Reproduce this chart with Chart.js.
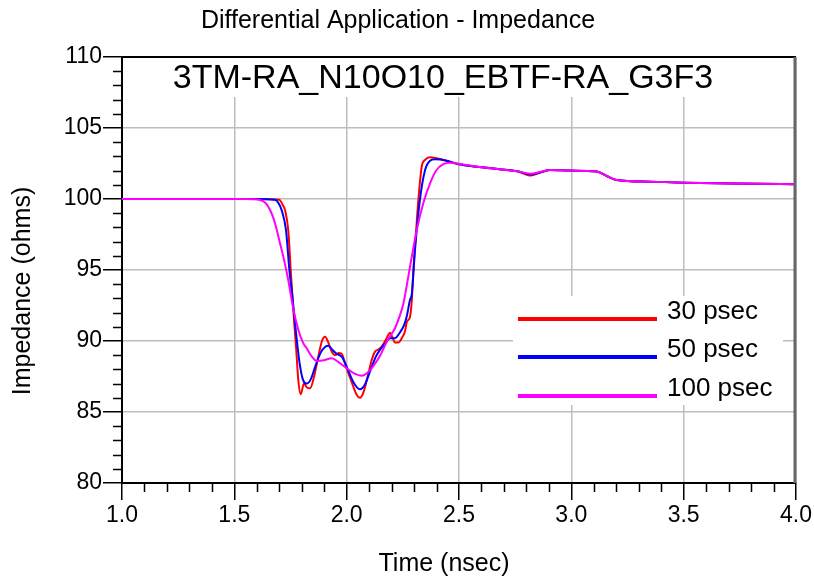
<!DOCTYPE html>
<html>
<head>
<meta charset="utf-8">
<script src="https://cdn.jsdelivr.net/npm/chart.js@4"></script>
<style>
  html, body { margin: 0; padding: 0; background: #fff; }
</style>
</head>
<body>
<canvas id="impChart" width="814" height="578"></canvas>
<script>
// time (nsec) / impedance (ohms)
const t30 = [1.0, 1.6, 1.70, 1.715, 1.726, 1.74, 1.751, 1.762, 1.775, 1.785, 1.795, 1.81, 1.822, 1.837, 1.855, 1.875, 1.89, 1.904, 1.918, 1.935, 1.948, 1.965, 1.978, 1.995, 2.02, 2.045, 2.059, 2.075, 2.095, 2.112, 2.126, 2.141, 2.16, 2.178, 2.193, 2.205, 2.215, 2.23, 2.245, 2.26, 2.267, 2.275, 2.282, 2.29, 2.297, 2.308, 2.319, 2.334, 2.349, 2.371, 2.40, 2.445, 2.495, 2.59, 2.68, 2.76, 2.82, 2.86, 2.905, 2.994, 3.113, 3.157, 3.2, 3.35, 3.5, 3.72, 4.0];
const z30 = [100, 100, 99.95, 99.6, 99.2, 97.8, 95.0, 92.3, 89.5, 87.2, 86.25, 87.0, 86.75, 86.67, 87.5, 89.0, 90.0, 90.3, 89.9, 89.2, 89.0, 89.15, 89.1, 88.3, 87.2, 86.2, 86.0, 86.4, 87.6, 88.7, 89.25, 89.4, 89.7, 90.2, 90.58, 90.2, 89.9, 89.9, 90.2, 90.7, 91.3, 91.5, 91.7, 92.9, 95.0, 97.5, 99.9, 102.27, 102.75, 102.94, 102.87, 102.7, 102.46, 102.25, 102.1, 101.95, 101.65, 101.85, 102.04, 102.0, 101.93, 101.62, 101.34, 101.22, 101.15, 101.1, 101.04];

const t50 = [1.0, 1.6, 1.681, 1.697, 1.711, 1.73, 1.745, 1.76, 1.775, 1.79, 1.805, 1.822, 1.84, 1.86, 1.885, 1.905, 1.918, 1.935, 1.955, 1.978, 2.0, 2.03, 2.059, 2.08, 2.105, 2.13, 2.148, 2.17, 2.193, 2.215, 2.237, 2.255, 2.267, 2.282, 2.29, 2.304, 2.326, 2.349, 2.371, 2.393, 2.445, 2.495, 2.59, 2.68, 2.76, 2.82, 2.86, 2.905, 2.994, 3.113, 3.157, 3.2, 3.35, 3.5, 3.72, 4.0];
const z50 = [100, 100, 99.95, 99.7, 99.2, 97.8, 95.0, 92.9, 90.5, 88.5, 87.3, 87.0, 87.3, 88.2, 89.2, 89.6, 89.67, 89.4, 89.1, 88.9, 88.2, 87.1, 86.6, 86.9, 87.9, 88.9, 89.37, 89.8, 90.19, 90.2, 90.6, 91.1, 91.71, 92.9, 93.3, 96.4, 99.93, 102.04, 102.7, 102.8, 102.7, 102.46, 102.25, 102.1, 101.95, 101.72, 101.87, 102.04, 102.0, 101.93, 101.62, 101.34, 101.22, 101.15, 101.1, 101.04];

const t100 = [1.0, 1.55, 1.614, 1.64, 1.659, 1.675, 1.689, 1.703, 1.718, 1.74, 1.762, 1.785, 1.805, 1.822, 1.845, 1.867, 1.9, 1.933, 1.965, 2.0, 2.035, 2.067, 2.095, 2.119, 2.15, 2.18, 2.215, 2.237, 2.252, 2.282, 2.312, 2.341, 2.371, 2.40, 2.43, 2.46, 2.504, 2.59, 2.68, 2.76, 2.82, 2.86, 2.905, 2.994, 3.113, 3.157, 3.2, 3.35, 3.5, 3.72, 4.0];
const z100 = [100, 100, 99.93, 99.7, 99.23, 98.6, 97.82, 96.9, 95.94, 94.3, 92.3, 90.77, 89.9, 89.49, 88.9, 88.6, 88.65, 88.78, 88.5, 88.08, 87.7, 87.56, 87.8, 88.25, 89.0, 90.0, 90.9, 91.8, 92.6, 95.23, 97.82, 99.7, 101.1, 102.04, 102.46, 102.56, 102.46, 102.25, 102.1, 101.95, 101.78, 101.9, 102.04, 102.0, 101.93, 101.62, 101.34, 101.22, 101.15, 101.1, 101.04];

const seriesNames = ['30 psec', '50 psec', '100 psec'];
const seriesColors = ['#ff0000', '#0000ff', '#ff00ff'];
const yTicks = [80, 85, 90, 95, 100, 105, 110];
const xTicks = [1.0, 1.5, 2.0, 2.5, 3.0, 3.5, 4.0];

const FONT = "'Liberation Sans', Arial, sans-serif";

function pts(ts, zs) {
    return ts.map((t, i) => ({ x: t, y: zs[i] }));
}

const decorations = {
    id: 'decorations',
    beforeDatasetsDraw(chart) {
        const { ctx, chartArea: a } = chart;
        ctx.save();
        ctx.fillStyle = '#ffffff';
        // box behind the part name, and behind the legend
        ctx.fillRect(a.left + 1, a.top + 1, a.right - a.left - 2, 39);
        ctx.fillRect(513, 296, 270, 109);
        ctx.restore();
    },
    afterDraw(chart) {
        const { ctx, chartArea: a, scales } = chart;
        ctx.save();

        // minor ticks
        ctx.strokeStyle = '#000';
        ctx.lineWidth = 1.5;
        ctx.beginPath();
        for (let v = 80; v <= 110; v++) {
            if (v % 5 === 0) continue;
            const y = Math.round(scales.y.getPixelForValue(v)) + 0.5;
            ctx.moveTo(a.left - 9, y);
            ctx.lineTo(a.left, y);
        }
        for (let k = 10; k <= 40; k++) {
            if (k % 5 === 0) continue;
            const x = Math.round(scales.x.getPixelForValue(k / 10)) + 0.5;
            ctx.moveTo(x, a.bottom);
            ctx.lineTo(x, a.bottom + 9);
        }
        ctx.stroke();

        // frame: top black, right dark grey
        ctx.beginPath();
        ctx.lineWidth = 2;
        ctx.strokeStyle = '#000';
        ctx.moveTo(a.left, a.top);
        ctx.lineTo(a.right, a.top);
        ctx.stroke();
        ctx.beginPath();
        ctx.lineWidth = 3;
        ctx.strokeStyle = '#666';
        ctx.moveTo(a.right - 1, a.top);
        ctx.lineTo(a.right - 1, a.bottom);
        ctx.stroke();

        // titles
        ctx.fillStyle = '#000';
        ctx.textAlign = 'center';
        ctx.textBaseline = 'alphabetic';
        ctx.font = '25px ' + FONT;
        ctx.fillText('Differential Application - Impedance', 398, 28);
        ctx.font = '34px ' + FONT;
        ctx.fillText('3TM-RA_N10O10_EBTF-RA_G3F3', 443, 88);

        ctx.font = '25px ' + FONT;
        ctx.fillText('Time (nsec)', 444, 571);
        ctx.save();
        ctx.translate(30, 291);
        ctx.rotate(-Math.PI / 2);
        ctx.fillText('Impedance (ohms)', 0, 0);
        ctx.restore();

        // legend
        const legendY = [319, 357, 396];
        ctx.textAlign = 'left';
        ctx.font = '26px ' + FONT;
        seriesNames.forEach((name, i) => {
            ctx.beginPath();
            ctx.strokeStyle = seriesColors[i];
            ctx.lineWidth = 4;
            ctx.moveTo(518, legendY[i]);
            ctx.lineTo(657, legendY[i]);
            ctx.stroke();
            ctx.fillStyle = '#000';
            ctx.fillText(name, 667, legendY[i]);
        });

        ctx.restore();
    }
};

const ctx = document.getElementById('impChart').getContext('2d');
const impChart = new Chart(ctx, {
    type: 'line',
    data: {
        datasets: [
            { label: seriesNames[0], data: pts(t30, z30), borderColor: seriesColors[0], order: 3 },
            { label: seriesNames[1], data: pts(t50, z50), borderColor: seriesColors[1], order: 2 },
            { label: seriesNames[2], data: pts(t100, z100), borderColor: seriesColors[2], order: 1 }
        ]
    },
    options: {
        responsive: false,
        animation: false,
        layout: { padding: { left: 0, top: 57, right: 18, bottom: 0 } },
        elements: {
            line: { borderWidth: 2, cubicInterpolationMode: 'monotone', fill: false },
            point: { radius: 0 }
        },
        scales: {
            x: {
                type: 'linear',
                min: 1, max: 4,
                afterFit: (s) => { s.height = 95; },
                afterBuildTicks: (s) => { s.ticks = xTicks.map(v => ({ value: v })); },
                ticks: {
                    autoSkip: false,
                    maxRotation: 0,
                    padding: 2,
                    color: '#000',
                    font: { family: FONT, size: 23 },
                    callback: (v) => Number(v).toFixed(1)
                },
                grid: { color: '#bdbdbd', lineWidth: 1.5, tickLength: 17, tickColor: '#000', tickWidth: 1.5 },
                border: { color: '#000', width: 2 }
            },
            y: {
                min: 80, max: 110,
                afterFit: (s) => { s.width = 122; },
                afterBuildTicks: (s) => { s.ticks = yTicks.map(v => ({ value: v })); },
                ticks: {
                    padding: 1,
                    color: '#000',
                    font: { family: FONT, size: 23 }
                },
                grid: { color: '#bdbdbd', lineWidth: 1.5, tickLength: 19, tickColor: '#000', tickWidth: 1.5 },
                border: { color: '#000', width: 2 }
            }
        },
        plugins: {
            legend: { display: false },
            title: { display: false },
            tooltip: { enabled: false }
        }
    },
    plugins: [decorations]
});
</script>
</body>
</html>
